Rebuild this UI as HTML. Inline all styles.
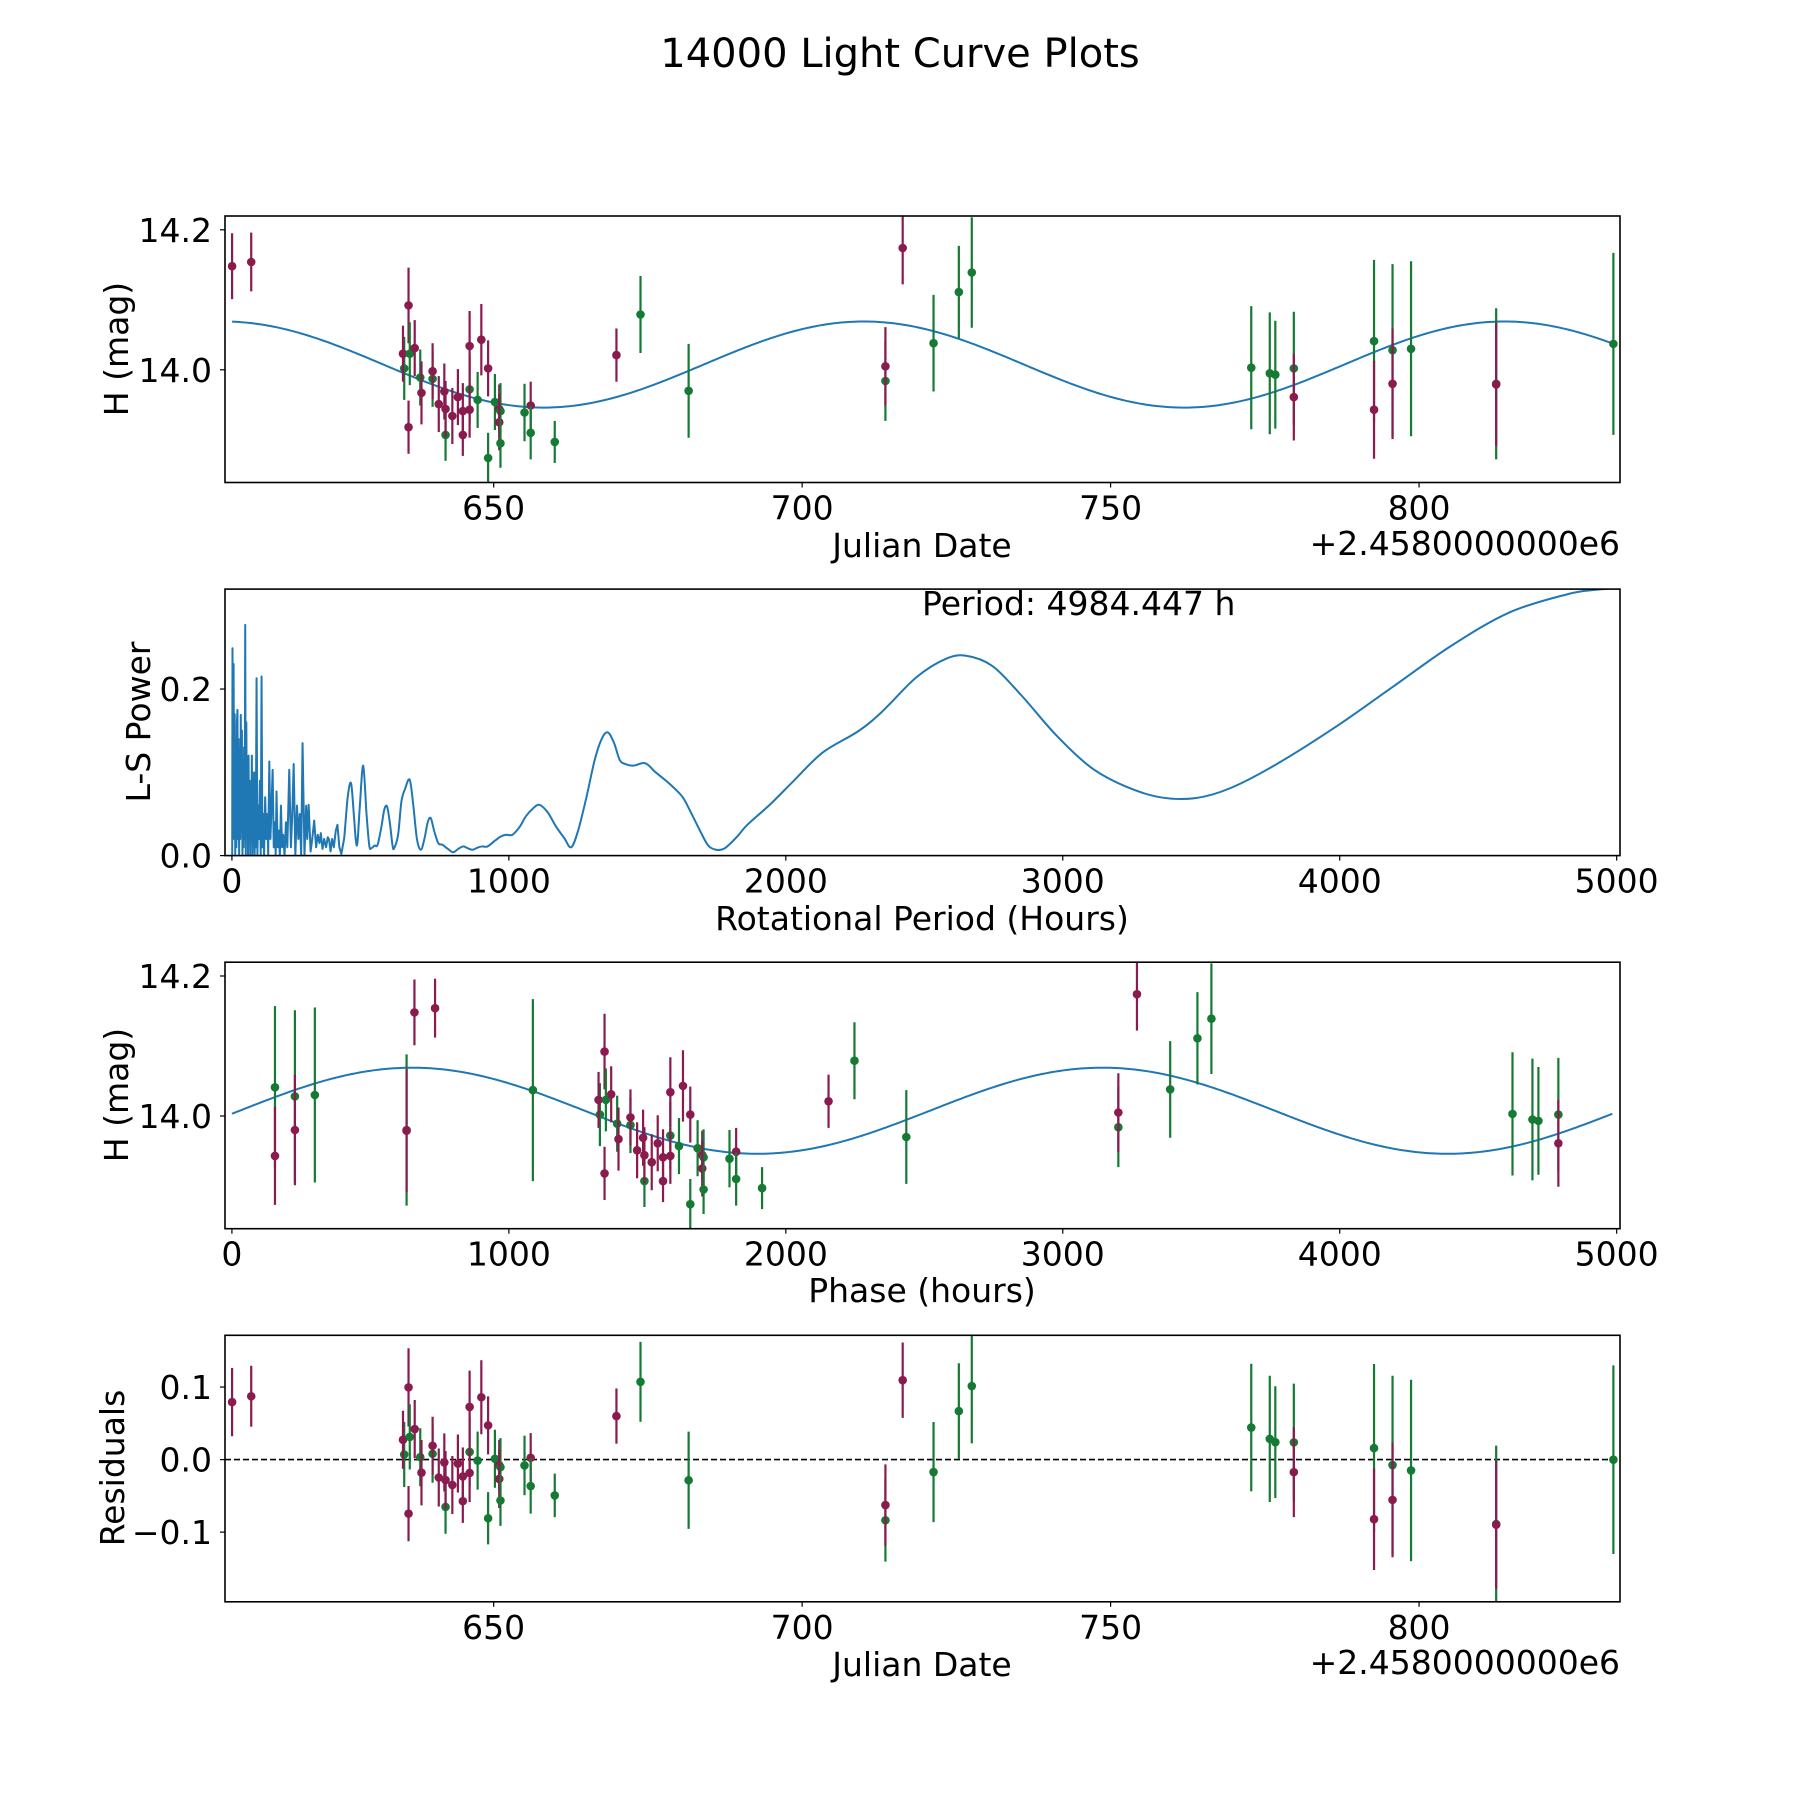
<!DOCTYPE html>
<html><head><meta charset="utf-8">
<style>
html,body{margin:0;padding:0;background:#fff;}
svg{display:block;font-family:"DejaVu Sans","Liberation Sans",sans-serif;}
</style></head>
<body>
<svg id="fig" width="1800" height="1800" viewBox="0 0 1800 1800" xmlns="http://www.w3.org/2000/svg">
<rect width="1800" height="1800" fill="#fff"/>
<text x="900" y="67" font-size="40" text-anchor="middle">14000 Light Curve Plots</text>
</svg>
<script>
// ---- observation data ----
const dates = [607.6,610.7,635.5,635.3,636.2,636.2,636.4,637.2,638.1,638.3,640.1,640.1,641.1,642.0,642.2,642.2,643.3,644.2,645.0,645.0,646.1,646.1,646.1,647.4,648.0,649.1,649.1,650.2,650.9,651.1,650.9,651.1,655.0,656.0,656.0,659.9,669.9,673.8,681.6,713.5,713.5,716.3,721.3,725.4,727.5,772.8,775.8,776.7,779.7,779.7,792.7,792.7,795.7,795.7,798.7,812.5,812.5,831.5];
const mags = [14.148,14.154,14.002,14.023,14.092,13.918,14.023,14.031,13.989,13.967,13.987,13.998,13.951,13.969,13.907,13.944,13.934,13.961,13.907,13.941,13.972,14.034,13.943,13.957,14.043,14.002,13.874,13.954,13.944,13.941,13.925,13.895,13.939,13.949,13.910,13.897,14.021,14.079,13.970,13.984,14.005,14.174,14.038,14.111,14.139,14.003,13.995,13.993,14.002,13.961,14.041,13.943,14.028,13.980,14.030,13.980,13.979,14.037];
const errs = [0.047,0.042,0.045,0.04,0.054,0.038,0.045,0.04,0.04,0.045,0.04,0.04,0.04,0.04,0.037,0.04,0.04,0.04,0.03,0.04,0.048,0.05,0.04,0.04,0.051,0.04,0.036,0.04,0.035,0.04,0.04,0.035,0.041,0.034,0.038,0.03,0.038,0.055,0.067,0.057,0.056,0.052,0.069,0.066,0.079,0.088,0.087,0.077,0.081,0.062,0.116,0.07,0.123,0.079,0.125,0.108,0.088,0.13];
const filters = ['P','P','G','P','P','P','G','P','G','P','G','P','P','P','G','P','P','P','P','P','G','P','P','G','P','P','G','G','P','G','P','G','G','P','G','G','P','G','G','G','P','P','G','G','G','G','G','G','G','P','G','P','G','P','G','G','P','G'];
// ---- periodogram ----
const lsPeriod = [1,2,4,6,8,10,12,14,16,18,20,22,24,26,28,30,32,34,36,38,40,42,44,46,48,50,52,54,56,58,60,62,64,66,68,70,72,74,76,78,80,82,84,86,89,92,95,98,101,104,107,110,113,116,120,124,128,131,135,139,143,147,151,155,158,161,165,169,173,177,181,185,190,195,200,207,213,218,223,229,235,240,245,250,255,262,268,272,277,284,290,297,304,310,316,321,327,333,340,346,351,356,362,368,375,381,388,395,405,418,430,440,447,453,462,474,486,496,504,515,526,540,550,560,570,580,586,600,612,625,642,655,668,682,695,707,718,730,745,760,780,799,817,835,850,869,890,905,923,950,971,990,1013,1040,1061,1085,1110,1140,1170,1200,1225,1250,1280,1310,1335,1357,1380,1400,1420,1450,1492,1530,1567,1600,1630,1660,1693,1720,1748,1775,1798,1830,1861,1945,2029,2134,2260,2345,2471,2576,2651,2744,2849,2975,3101,3227,3353,3479,3605,3773,3983,4193,4403,4613,4824,4920,4984];
const lsPower = [0.0,0.249,0.05,0.23,0.02,0.17,0.0,0.14,0.01,0.16,0.175,0.02,0.14,0.0,0.12,0.02,0.169,0.03,0.15,0.0,0.10,0.01,0.13,0.02,0.277,0.0,0.16,0.03,0.11,0.0,0.12,0.02,0.09,0.0,0.08,0.03,0.12,0.0,0.06,0.02,0.10,0.0,0.07,0.01,0.213,0.0,0.06,0.02,0.09,0.0,0.215,0.01,0.05,0.0,0.07,0.02,0.05,0.0,0.113,0.02,0.06,0.103,0.01,0.04,0.0,0.077,0.01,0.03,0.0,0.06,0.01,0.025,0.0,0.04,0.01,0.103,0.01,0.05,0.110,0.0,0.06,0.02,0.05,0.0,0.135,0.0,0.06,0.02,0.061,0.005,0.02,0.042,0.01,0.025,0.015,0.027,0.008,0.02,0.01,0.022,0.019,0.005,0.02,0.01,0.03,0.037,0.01,0.002,0.02,0.07,0.087,0.05,0.02,0.015,0.06,0.108,0.05,0.012,0.009,0.012,0.013,0.035,0.055,0.059,0.04,0.012,0.009,0.025,0.065,0.080,0.091,0.06,0.02,0.007,0.02,0.04,0.045,0.03,0.015,0.013,0.008,0.004,0.008,0.011,0.009,0.007,0.01,0.011,0.011,0.018,0.023,0.025,0.025,0.035,0.047,0.056,0.061,0.052,0.035,0.021,0.01,0.03,0.07,0.115,0.14,0.148,0.135,0.115,0.110,0.108,0.111,0.1,0.090,0.08,0.069,0.05,0.028,0.012,0.007,0.008,0.014,0.025,0.037,0.062,0.090,0.124,0.149,0.172,0.214,0.236,0.240,0.228,0.193,0.145,0.106,0.083,0.070,0.069,0.081,0.110,0.154,0.203,0.252,0.292,0.314,0.319,0.321];
// ---- tick labels ----
const dateTicks = [650,700,750,800];
const magTicks = [14.0,14.2];
const powerTicks = [0.0,0.2];
const hourTicks = [0,1000,2000,3000,4000,5000];
const residTicks = [-0.1,0.0,0.1];
// ---- fit parameters ----
const fitMean = 14.0075, fitAmp = 0.0615, fitPeriodDays = 103.843, fitPeakDate = 710.0;
const bestPeriodHours = 4984.447, foldPeriodHours = 4946, phaseZeroDate = 580.14, phaseCurvePeak = 3143;

const NS = 'http://www.w3.org/2000/svg';
const svg = document.getElementById('fig');
const PURPLE = '#8b1a4e', GREEN = '#157a33', BLUE = '#1f77b4';
function el(tag, attrs, parent){ const e=document.createElementNS(NS,tag); for(const k in attrs) e.setAttribute(k,attrs[k]); (parent||svg).appendChild(e); return e; }
function model(t){ return fitMean + fitAmp*Math.cos(2*Math.PI*(t-fitPeakDate)/fitPeriodDays); }
function fmt(v,d){ const s=Math.abs(v).toFixed(d); return (v< -1e-9?'\u2212':'')+s; }

const X0=225, X1=1620, H=266.5;
function makeAxes(idx, top, xlim, ylim, name){
  const ax={top, bottom:top+H, xlim, ylim};
  ax.x = v => X0 + (v-xlim[0])/(xlim[1]-xlim[0])*(X1-X0);
  ax.y = v => ax.bottom - (v-ylim[0])/(ylim[1]-ylim[0])*H;
  const cp = el('clipPath',{id:'clip'+idx});
  el('rect',{x:X0,y:top,width:X1-X0,height:H},cp);
  ax.g = el('g',{'clip-path':'url(#clip'+idx+')'});
  
  
  return ax;
}
function frame(ax, name){
  const r = el('rect',{x:X0,y:ax.top,width:X1-X0,height:H,fill:'none',stroke:'#000','stroke-width':1.6});
  
  
}
function xTicks(ax, ticks, dec, name){
  ticks.forEach(v=>{
    const px=ax.x(v);
    el('line',{x1:px,x2:px,y1:ax.bottom,y2:ax.bottom+5,stroke:'#000','stroke-width':1.2});
    const t=el('text',{x:px,y:ax.bottom+37,'font-size':33,'text-anchor':'middle'});
    t.textContent=fmt(v,dec);
    
    
  });
}
function yTicks(ax, ticks, dec, name){
  ticks.forEach(v=>{
    const py=ax.y(v);
    el('line',{x1:X0-5,x2:X0,y1:py,y2:py,stroke:'#000','stroke-width':1.2});
    const t=el('text',{x:X0-13,y:py+12,'font-size':33,'text-anchor':'end'});
    t.textContent=fmt(v,dec);
    
    
  });
}
function label(x,y,txt,rot,name,anchor){
  const t=el('text',{x:x,y:y,'font-size':33,'text-anchor':anchor||'middle'});
  if(rot) t.setAttribute('transform','rotate(-90 '+x+' '+y+')');
  t.textContent=txt;
  
  
}
function errPoints(ax, xs, ys, es, name){
  for(let i=0;i<xs.length;i++){
    const c = filters[i]==='P'?PURPLE:GREEN;
    const px=ax.x(xs[i]), py=ax.y(ys[i]);
    const ln=el('line',{x1:px,x2:px,y1:ax.y(ys[i]+es[i]),y2:ax.y(ys[i]-es[i]),stroke:c,'stroke-width':2.2},ax.g);
    
    
    const d=el('circle',{cx:px,cy:py,r:4.3,fill:c},ax.g);
    
    
  }
}
function curve(ax, xs, ys, name, smoothFrom){
  const P=xs.map((v,i)=>[ax.x(v),ax.y(ys[i])]);
  let d='M'+P[0][0].toFixed(2)+','+P[0][1].toFixed(2);
  for(let i=1;i<P.length;i++){
    if(smoothFrom!==undefined && xs[i-1]>=smoothFrom && i>=2 && i<P.length-1){
      const p0=P[i-2],p1=P[i-1],p2=P[i],p3=P[i+1];
      const c1=[p1[0]+(p2[0]-p0[0])/6,p1[1]+(p2[1]-p0[1])/6];
      const c2=[p2[0]-(p3[0]-p1[0])/6,p2[1]-(p3[1]-p1[1])/6];
      d+='C'+c1[0].toFixed(2)+','+c1[1].toFixed(2)+' '+c2[0].toFixed(2)+','+c2[1].toFixed(2)+' '+p2[0].toFixed(2)+','+p2[1].toFixed(2);
    } else d+='L'+P[i][0].toFixed(2)+','+P[i][1].toFixed(2);
  }
  const path=el('path',{d:d,fill:'none',stroke:BLUE,'stroke-width':2,'stroke-linejoin':'round'},ax.g);
  
  
}

// Panel 1: light curve
const a1 = makeAxes(1, 216, [606.45,832.57], [13.839,14.2197], 'light-curve');
const tmin=Math.min(...dates), tmax=Math.max(...dates);
const cx=[],cy=[]; for(let i=0;i<=500;i++){const t=tmin+(tmax-tmin)*i/500; cx.push(t); cy.push(model(t));}
curve(a1,cx,cy,'light-curve-fit-line');
errPoints(a1,dates,mags,errs,'light-curve');
frame(a1,'light-curve');
xTicks(a1,dateTicks,0,'light-curve'); yTicks(a1,magTicks,1,'light-curve');
label(922,557,'Julian Date',false,'light-curve-x-axis-title');
label(1620,555,'+2.4580000000e6',false,'light-curve-x-offset-text','end');
label(128,349,'H (mag)',true,'light-curve-y-axis-title');

// Panel 2: periodogram
const a2 = makeAxes(2, 589.1, [-25,5012], [0,0.32], 'periodogram');
curve(a2,lsPeriod,lsPower,'periodogram-line',400);
frame(a2,'periodogram');
xTicks(a2,hourTicks,0,'periodogram'); yTicks(a2,powerTicks,1,'periodogram');
label(922,930,'Rotational Period (Hours)',false,'periodogram-x-axis-title');
label(150,722,'L-S Power',true,'periodogram-y-axis-title');
label(922,615,'Period: '+bestPeriodHours.toFixed(3)+' h',false,'period-annotation','start');

// Panel 3: phase folded
const a3 = makeAxes(3, 962.2, [-25,5012], [13.839,14.2197], 'phase-plot');
const phases = dates.map(t=>(((t-phaseZeroDate)*24)%foldPeriodHours+foldPeriodHours)%foldPeriodHours);
const px3=[],py3=[]; for(let i=0;i<=500;i++){const p=bestPeriodHours*i/500; px3.push(p); py3.push(fitMean+fitAmp*Math.cos(2*Math.PI*(p-phaseCurvePeak)/(bestPeriodHours/2)));}
curve(a3,px3,py3,'phase-fit-line');
errPoints(a3,phases,mags,errs,'phase-plot');
frame(a3,'phase-plot');
xTicks(a3,hourTicks,0,'phase-plot'); yTicks(a3,magTicks,1,'phase-plot');
label(922,1302,'Phase (hours)',false,'phase-x-axis-title');
label(128,1095,'H (mag)',true,'phase-y-axis-title');

// Panel 4: residuals
const a4 = makeAxes(4, 1335.3, [606.45,832.57], [-0.196,0.1713], 'residuals');
const resid = mags.map((m,i)=>m-model(dates[i]));
const zl=el('line',{x1:X0,x2:X1,y1:a4.y(0),y2:a4.y(0),stroke:'#000','stroke-width':1.6,'stroke-dasharray':'6,3'},a4.g);


errPoints(a4,dates,resid,errs,'residuals');
frame(a4,'residuals');
xTicks(a4,dateTicks,0,'residuals'); yTicks(a4,residTicks,1,'residuals');
label(922,1676,'Julian Date',false,'residuals-x-axis-title');
label(1620,1674,'+2.4580000000e6',false,'residuals-x-offset-text','end');
label(124,1468,'Residuals',true,'residuals-y-axis-title');
</script>
</body></html>
